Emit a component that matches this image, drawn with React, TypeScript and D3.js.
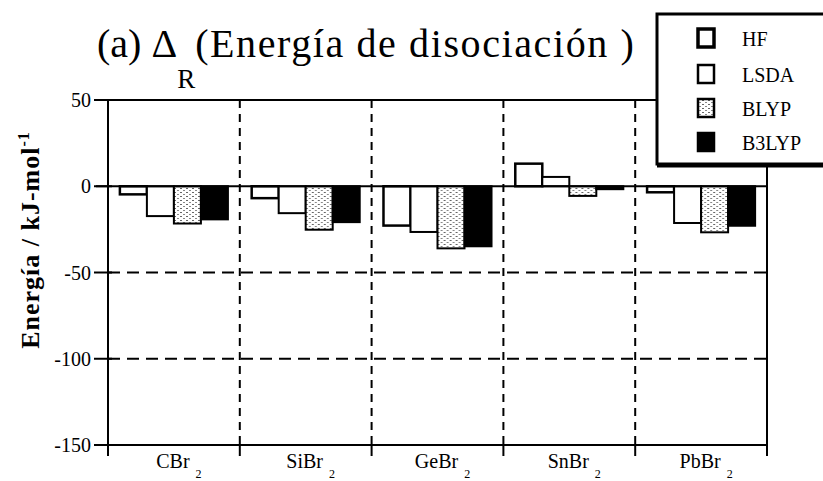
import React from "react";
import * as d3 from "d3";

const categories = ["CBr", "SiBr", "GeBr", "SnBr", "PbBr"];
const categorySub = ["2", "2", "2", "2", "2"];
const seriesNames = ["HF", "LSDA", "BLYP", "B3LYP"];
const hfValues = [-4.7, -6.9, -22.8, 13.1, -3.5];
const lsdaValues = [-17.3, -15.6, -26.5, 5.4, -21.3];
const blypValues = [-21.6, -25.2, -36.0, -5.6, -26.7];
const b3lypValues = [-19.2, -20.8, -34.8, -1.7, -22.9];
const yTicks = [50, 0, -50, -100, -150];
const dashedGrid = [-50, -100];

const W = 823;
const H = 481;
const left = 108;
const right = 767;
const top = 100;
const bottom = 445;
const FONT = "Liberation Serif, Times New Roman, DejaVu Serif, serif";

export default function App() {
  const allValues = [hfValues, lsdaValues, blypValues, b3lypValues];
  const y = d3.scaleLinear().domain([-150, 50]).range([bottom, top]);
  const x0 = d3.scaleBand<string>().domain(categories).range([left, right]).paddingInner(0).paddingOuter(0);
  const x1 = d3
    .scaleBand<string>()
    .domain(seriesNames)
    .range([0, x0.bandwidth()])
    .paddingInner(0)
    .paddingOuter(0.44);

  const fills = ["#fff", "#fff", "url(#stipple)", "#000"];
  const strokeW = [2.5, 2, 2, 2];

  const boundaries = categories.slice(1).map((c) => x0(c) as number);
  const allBounds = [left, ...boundaries, right];

  const legendY = [38, 74, 108, 142];
  const tf = { fontFamily: FONT };

  return (
    <svg
      width={W}
      height={H}
      style={{ position: "absolute", left: 0, top: 0, background: "#fff", fontFamily: FONT }}
    >
      <defs>
        <pattern id="stipple" width="6" height="4" patternUnits="userSpaceOnUse">
          <rect width="6" height="4" fill="#fff" />
          <rect x="0" y="0" width="2" height="1" fill="#666" />
          <rect x="3" y="2" width="2" height="1" fill="#888" />
        </pattern>
      </defs>
      <rect width={W} height={H} fill="#fff" />

      {/* Title */}
      <text x={97} y={57} fontSize={40} fill="#000" style={tf}>
        <tspan>(a) Δ</tspan>
        <tspan dy={31} fontSize={27}>R</tspan>
        <tspan dy={-31} letterSpacing={1.6}>(Energía de disociación )</tspan>
      </text>

      {/* Y label */}
      <text
        transform={`translate(39, 240) rotate(-90)`}
        textAnchor="middle"
        fontSize={26}
        fontWeight="bold"
        letterSpacing={1}
        fill="#000"
        style={tf}
      >
        <tspan>Energía / kJ-mol</tspan>
        <tspan dy={-10} fontSize={16}>-1</tspan>
      </text>

      {/* dashed grid */}
      {dashedGrid.map((v) => (
        <line
          key={"h" + v}
          x1={left}
          x2={right}
          y1={y(v)}
          y2={y(v)}
          stroke="#000"
          strokeWidth={2}
          strokeDasharray="12,7"
        />
      ))}
      {boundaries.map((bx, i) => (
        <line
          key={"v" + i}
          x1={bx}
          x2={bx}
          y1={top}
          y2={bottom}
          stroke="#000"
          strokeWidth={2}
          strokeDasharray="8,6"
        />
      ))}

      {/* bars */}
      {categories.map((c, ci) => (
        <g key={c} transform={`translate(${x0(c)},0)`}>
          {seriesNames.map((s, si) => {
            const v = allValues[si][ci];
            const y0 = y(0);
            const yv = y(v);
            return (
              <rect
                key={s}
                x={x1(s)}
                y={Math.min(y0, yv)}
                width={x1.bandwidth()}
                height={Math.abs(yv - y0)}
                fill={fills[si]}
                stroke="#000"
                strokeWidth={strokeW[si]}
              />
            );
          })}
        </g>
      ))}

      {/* zero line */}
      <line x1={left - 12} x2={right} y1={y(0)} y2={y(0)} stroke="#000" strokeWidth={2} />

      {/* frame */}
      <line x1={left} x2={right} y1={top} y2={top} stroke="#000" strokeWidth={2} />
      <line x1={left} x2={left} y1={top} y2={bottom} stroke="#000" strokeWidth={2} />
      <line x1={right} x2={right} y1={top} y2={bottom} stroke="#000" strokeWidth={2} />
      <line x1={left} x2={right} y1={bottom} y2={bottom} stroke="#000" strokeWidth={2} />

      {/* y ticks */}
      {yTicks.map((t) => (
        <g key={"t" + t}>
          <line x1={left - 14} x2={left + 4} y1={y(t)} y2={y(t)} stroke="#000" strokeWidth={2} />
          <text x={91} y={y(t)} dy="0.35em" textAnchor="end" fontSize={20} fill="#000" style={tf}>
            {t}
          </text>
        </g>
      ))}

      {/* x ticks */}
      {allBounds.map((bx, i) => (
        <line key={"xt" + i} x1={bx} x2={bx} y1={bottom} y2={bottom + 11} stroke="#000" strokeWidth={2} />
      ))}
      {categories.map((c, ci) => (
        <text
          key={"xl" + c}
          x={(x0(c) as number) + x0.bandwidth() / 2 + 5}
          y={468}
          textAnchor="middle"
          fontSize={20}
          fill="#000"
          style={tf}
        >
          <tspan>{c}</tspan>
          <tspan dx={6} dy={10} fontSize={12}>
            {categorySub[ci]}
          </tspan>
        </text>
      ))}

      {/* legend */}
      <rect x={657} y={14} width={200} height={150} fill="#fff" stroke="#000" strokeWidth={3} />
      <line x1={657} x2={W} y1={166} y2={166} stroke="#000" strokeWidth={3} />
      {seriesNames.map((s, si) => (
        <g key={"lg" + s}>
          <rect
            x={698}
            y={legendY[si] - 9}
            width={16}
            height={18}
            fill={fills[si]}
            stroke="#000"
            strokeWidth={si === 0 ? 3.5 : 2.5}
          />
          <text x={742} y={legendY[si] + 8} fontSize={20} fill="#000" style={tf}>
            {s}
          </text>
        </g>
      ))}
    </svg>
  );
}
